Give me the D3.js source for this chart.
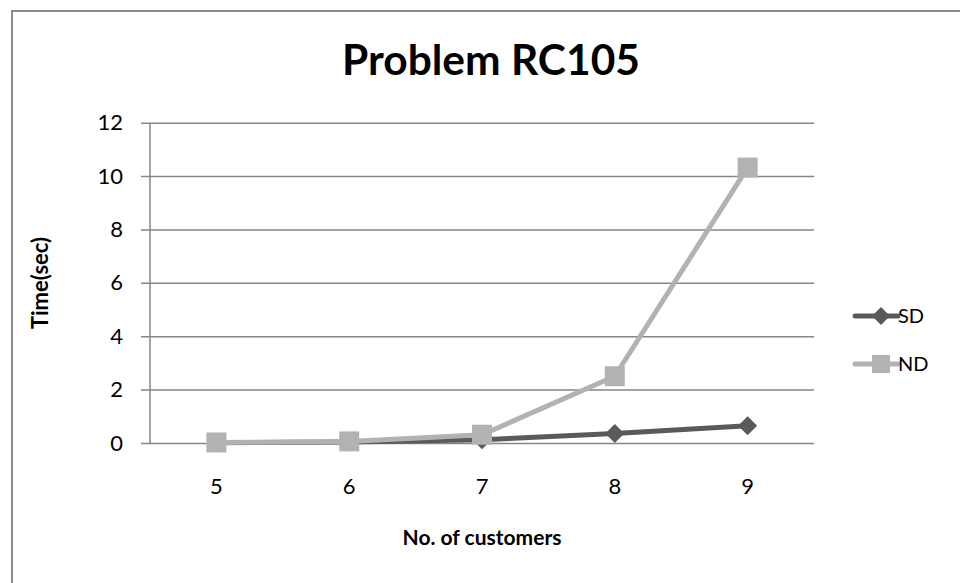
<!DOCTYPE html>
<html>
<head>
<meta charset="utf-8">
<script src="https://cdn.jsdelivr.net/npm/d3@7"></script>
<style>
  html, body { margin: 0; padding: 0; background: #fff; }
  svg { display: block; }
  text { font-family: Lato, "Open Sans", sans-serif; fill: #000; }
</style>
</head>
<body>
<svg id="chart" width="960" height="583"></svg>
<script>
// Chart data
const customers = [5, 6, 7, 8, 9];
const sdTimes = [0.01, 0.04, 0.12, 0.36, 0.65];
const ndTimes = [0.02, 0.06, 0.31, 2.5, 10.32];
const yTicks = [0, 2, 4, 6, 8, 10, 12];
const seriesNames = ["SD", "ND"];

const svg = d3.select("#chart");
const W = 960, H = 583;

// Chart frame (left and top edges visible)
svg.append("path")
  .attr("d", `M12,${H} L12,11 L${W},11`)
  .attr("fill", "none")
  .attr("stroke", "#8c8c8c")
  .attr("stroke-width", 2);

const plot = { left: 150, right: 814, top: 122.7, bottom: 443 };

const x = d3.scaleBand().domain(customers).range([plot.left, plot.right]);
const y = d3.scaleLinear().domain([0, 12]).range([plot.bottom, plot.top]);
const cx = d => x(d) + x.bandwidth() / 2;

// Horizontal gridlines with left tick marks
const yAxis = d3.axisLeft(y).tickValues(yTicks).tickSize(-(plot.right - plot.left)).tickPadding(27);
const gy = svg.append("g").attr("transform", `translate(${plot.left},0)`).call(yAxis);
gy.select(".domain").remove();
gy.selectAll(".tick line").attr("stroke", "#868686").attr("stroke-width", 1.5).attr("x1", -9);
gy.selectAll(".tick text").style("font-size", "22px").style("font-family", "Lato, sans-serif").attr("fill", "#000");

// Vertical axis line
svg.append("line")
  .attr("x1", plot.left).attr("x2", plot.left)
  .attr("y1", plot.top).attr("y2", plot.bottom)
  .attr("stroke", "#868686").attr("stroke-width", 1.5);

// Category axis labels
const xAxis = d3.axisBottom(x).tickSize(0).tickPadding(35);
const gx = svg.append("g").attr("transform", `translate(0,${plot.bottom})`).call(xAxis);
gx.select(".domain").remove();
gx.selectAll(".tick text").style("font-size", "22px").style("font-family", "Lato, sans-serif").attr("fill", "#000");

// Title
svg.append("text")
  .attr("x", 491).attr("y", 75)
  .attr("text-anchor", "middle")
  .style("font-size", "42.5px").style("font-weight", "bold")
  .text("Problem RC105");

// Axis titles
svg.append("text")
  .attr("transform", "translate(48,283) rotate(-90)")
  .attr("text-anchor", "middle")
  .style("font-size", "22px").style("font-weight", "bold")
  .text("Time(sec)");

svg.append("text")
  .attr("x", 482).attr("y", 545)
  .attr("text-anchor", "middle")
  .style("font-size", "21px").style("font-weight", "bold")
  .text("No. of customers");

const colors = { SD: "#5a5a5a", ND: "#b2b2b2" };
const line = d3.line().x(d => cx(d.c)).y(d => y(d.v));
const diamond = s => `M0,${-s} L${s},0 L0,${s} L${-s},0 Z`;

const sdPts = customers.map((c, i) => ({ c, v: sdTimes[i] }));
const ndPts = customers.map((c, i) => ({ c, v: ndTimes[i] }));

// SD series
svg.append("path").datum(sdPts)
  .attr("d", line).attr("fill", "none")
  .attr("stroke", colors.SD).attr("stroke-width", 5).attr("stroke-linejoin", "round");
svg.selectAll(".sd-mark").data(sdPts).join("path")
  .attr("class", "sd-mark")
  .attr("transform", d => `translate(${cx(d.c)},${y(d.v)})`)
  .attr("d", diamond(9.5))
  .attr("fill", colors.SD);

// ND series
svg.append("path").datum(ndPts)
  .attr("d", line).attr("fill", "none")
  .attr("stroke", colors.ND).attr("stroke-width", 5).attr("stroke-linejoin", "round");
svg.selectAll(".nd-mark").data(ndPts).join("rect")
  .attr("class", "nd-mark")
  .attr("x", d => cx(d.c) - 10).attr("y", d => y(d.v) - 10)
  .attr("width", 20).attr("height", 20)
  .attr("fill", colors.ND);

// Legend
const legend = svg.append("g");
seriesNames.forEach((name, i) => {
  const ly = 316 + i * 48;
  const g = legend.append("g").attr("transform", `translate(0,${ly})`);
  g.append("line").attr("x1", 855).attr("x2", 898).attr("y1", 0).attr("y2", 0)
    .attr("stroke", colors[name]).attr("stroke-width", 5).attr("stroke-linecap", "round");
  if (name === "SD") {
    g.append("path").attr("transform", "translate(881,0)").attr("d", diamond(9)).attr("fill", colors[name]);
  } else {
    g.append("rect").attr("x", 872).attr("y", -9).attr("width", 18).attr("height", 18).attr("fill", colors[name]);
  }
  g.append("text").attr("x", 898).attr("y", 0).attr("dy", "0.35em")
    .style("font-size", "20px").text(name);
});
</script>
</body>
</html>
